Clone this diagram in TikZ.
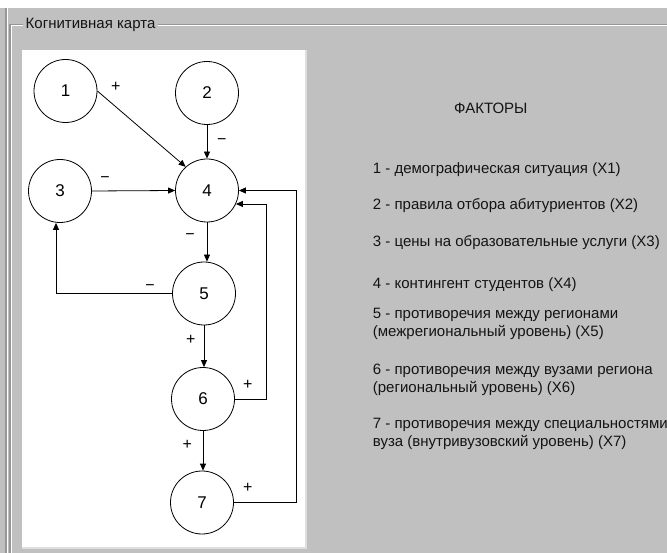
\documentclass[tikz,border=0pt]{standalone}
\usepackage{fontspec}
\setmainfont{Liberation Sans}
\usetikzlibrary{arrows.meta}
\definecolor{bg}{RGB}{192,192,192}
\definecolor{frm}{RGB}{150,150,150}
\definecolor{txt}{RGB}{20,20,20}
\definecolor{edge}{RGB}{222,222,222}
\begin{document}
\begin{tikzpicture}[x=1pt,y=-1pt,
  factor/.style={circle,draw=black,line width=0.8pt,minimum size=63pt,inner sep=0pt,fill=white,font=\fontsize{17}{20}\selectfont},
  link/.style={-{Triangle[length=7pt,width=6pt]},line width=0.8pt},
  sign/.style={font=\fontsize{16}{18}\selectfont,inner sep=0pt},
  item/.style={anchor=west,align=left,inner sep=0pt,font=\fontsize{15}{18.3}\selectfont,text=txt}]
\useasboundingbox (0,0) rectangle (667,553);
\clip (0,0) rectangle (667,553);
\fill[bg] (0,0) rectangle (667,553);
\fill[white] (0,0) rectangle (667,8);
% group box frame
\draw[frm,line width=1.2pt] (6,8) -- (6,553);
\draw[white,line width=1pt] (7.5,8) -- (7.5,553);
\draw[frm,line width=1.2pt] (10,553) -- (10,24.5) -- (667,24.5);
\draw[white,line width=1pt] (11.5,553) -- (11.5,26) -- (667,26);
\node[anchor=west,fill=bg,inner xsep=3pt,inner ysep=1pt,font=\fontsize{15}{18}\selectfont,text=txt] (title) at (22.5,25) {Когнитивная карта};
% white panel
\fill[white] (22,50) rectangle (305,547);
\draw[edge,line width=2pt] (306,50) -- (306,548) -- (22,548);
% factors
\node[factor] (n1) at (65.5,91) {1};
\node[factor] (n2) at (207,93) {2};
\node[factor] (n3) at (60,191) {3};
\node[factor] (n4) at (207,190.5) {4};
\node[factor] (n5) at (204,293.5) {5};
\node[factor] (n6) at (203,399) {6};
\node[factor] (n7) at (202,502.5) {7};
% links
\draw[link] (n1.east) -- (n4.132);
\draw[link] (n2.south) -- (n2.south |- n4.north);
\draw[link] (n3.east) -- (n4.west);
\draw[link] (n4.south) -- (n4.south |- n5.north);
\draw[link] (n5.west) -| ([xshift=-4pt]n3.south);
\draw[link] (n5.south) -- (n5.south |- n6.north);
\draw[link] (n6.east) -- ++(31,0) |- (n4.-25);
\draw[link] (n6.south) -- (n6.south |- n7.north);
\draw[link] (n7.east) -- ++(62,0) |- (n4.east);
% signs
\node[sign] (s14) at (115.7,86.7) {+};
\node[sign] (s24) at (221.7,141.7) {−};
\node[sign] (s34) at (105,180) {−};
\node[sign] (s45) at (190,236.7) {−};
\node[sign] (s53) at (150,288) {−};
\node[sign] (s56) at (190.7,340) {+};
\node[sign] (s64) at (247.7,385) {+};
\node[sign] (s67) at (187.3,445) {+};
\node[sign] (s74) at (247.7,488) {+};
% legend
\node[item] (hdr) at (454,108.3) {ФАКТОРЫ};
\node[item] (f1) at (372.7,169.3) {1 - демографическая ситуация (X1)};
\node[item] (f2) at (372.7,206) {2 - правила отбора абитуриентов (X2)};
\node[item] (f3) at (372.7,242.7) {3 - цены на образовательные услуги (X3)};
\node[item] (f4) at (372.7,285) {4 - контингент студентов (X4)};
\node[item] (f5) at (372.7,324.2) {5 - противоречия между регионами\\(межрегиональный уровень) (X5)};
\node[item] (f6) at (372.7,379.5) {6 - противоречия между вузами региона\\(региональный уровень) (X6)};
\node[item] (f7) at (372.7,434.2) {7 - противоречия между специальностями\\вуза (внутривузовский уровень) (X7)};
\end{tikzpicture}
\end{document}
